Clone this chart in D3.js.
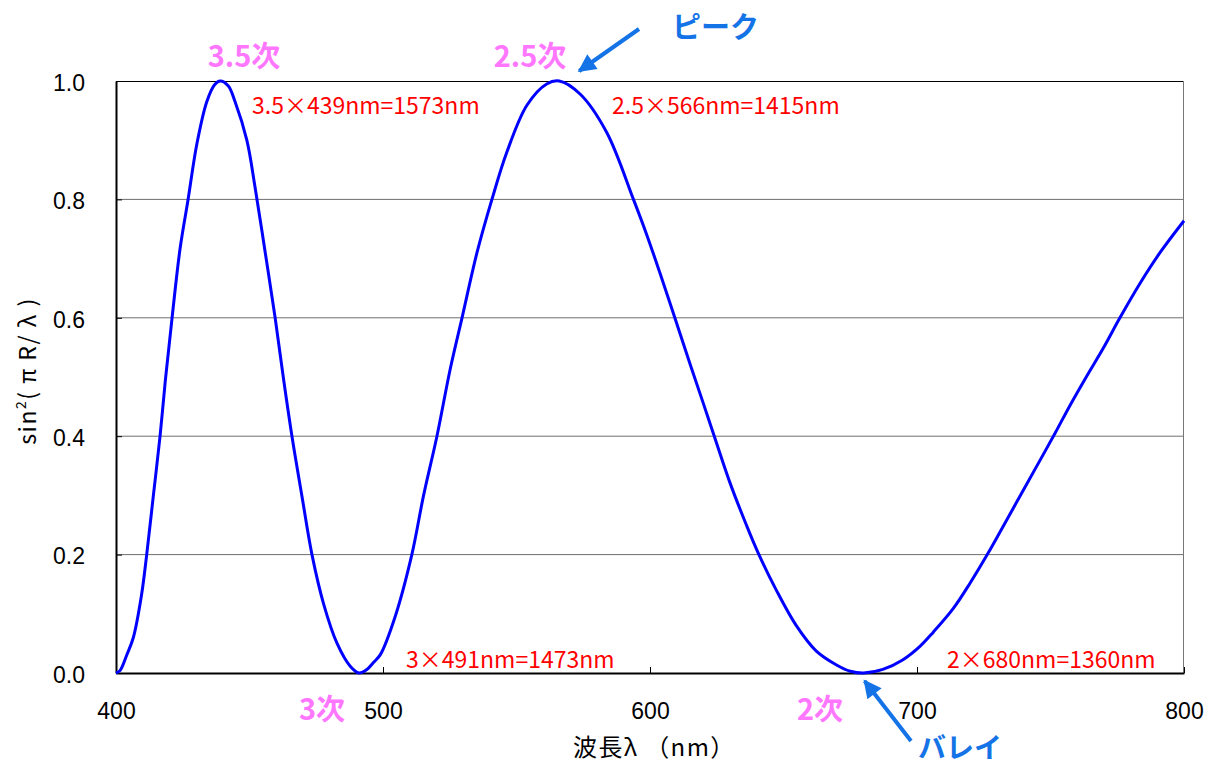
<!DOCTYPE html>
<html>
<head>
<meta charset="utf-8">
<script src="https://cdn.jsdelivr.net/npm/d3@7"></script>
<style>
  body { margin: 0; background: #ffffff; }
  svg { display: block; }
</style>
</head>
<body>
<svg id="chart" width="1210" height="766"></svg>
<script>
// Measured transmission term sin^2(πR/λ) against wavelength (nm)
const wavelength = [
  400, 401.5, 404, 406.5, 409.5, 411.5, 414, 416.5, 418.5, 421, 424, 427, 430.3, 434, 437, 439,
  442, 444.6, 449, 452.1, 455.9, 459.6, 462.8, 465.9, 469.6, 473.4, 477.8, 482.8, 487.8, 491,
  494, 496.5, 499, 504.6, 510.8, 515.2, 520.2, 525.2, 529.6, 535.2, 540.8, 546.4, 553.9, 561.3, 566,
  573.8, 583.8, 593.8, 598.8, 603.7, 609.3, 615, 620, 623.7, 629.9, 636.1, 640.5, 647.3, 654.8,
  662.3, 669.7, 675, 680, 687.2, 694.6, 701.1, 706.1, 713.6, 719.9, 726.7, 732.3, 738.6, 744.8,
  751.7, 757.3, 763.5, 769.8, 776, 783.5, 791, 800
];
const intensity = [
  0, 0.004, 0.03, 0.06, 0.13, 0.2, 0.3, 0.4, 0.495, 0.6, 0.717, 0.8, 0.894, 0.965, 0.994, 1.0,
  0.992, 0.965, 0.9, 0.82, 0.71, 0.6, 0.495, 0.4, 0.3, 0.2, 0.116, 0.05, 0.011, 0,
  0.006, 0.018, 0.031, 0.096, 0.2, 0.3, 0.4, 0.514, 0.6, 0.71, 0.8, 0.88, 0.959, 0.995, 1.0,
  0.978, 0.913, 0.8, 0.74, 0.676, 0.6, 0.522, 0.455, 0.405, 0.322, 0.25, 0.203, 0.14, 0.08,
  0.037, 0.014, 0.003, 0, 0.006, 0.022, 0.045, 0.069, 0.109, 0.152, 0.203, 0.248, 0.299, 0.349,
  0.405, 0.452, 0.501, 0.549, 0.6, 0.658, 0.71, 0.764
];
const xTicks = [400, 500, 600, 700, 800];
const yTicks = [0, 0.2, 0.4, 0.6, 0.8, 1.0];
const gridTicks = [0.2, 0.4, 0.6, 0.8];

// Order annotations (peaks and valleys) with the wavelengths they refer to
const orderLabels = ["3.5次", "2.5次", "3次", "2次"];
const orderWavelengths = [439, 566, 491, 680];
const formulaTexts = ["3.5×439nm=1573nm", "2.5×566nm=1415nm", "3×491nm=1473nm", "2×680nm=1360nm"];

const svg = d3.select("#chart");
const plot = { left: 116, right: 1184, top: 81, bottom: 673 };

const x = d3.scaleLinear().domain([400, 800]).range([plot.left, plot.right]);
const y = d3.scaleLinear().domain([0, 1]).range([plot.bottom, plot.top]);

const numFont = "'Liberation Sans', Arial, sans-serif";
const jpFont = "'Noto Sans CJK JP', 'Noto Sans', sans-serif";

// Horizontal gridlines
svg.append("g")
  .selectAll("line")
  .data(gridTicks)
  .join("line")
  .attr("x1", plot.left).attr("x2", plot.right)
  .attr("y1", d => y(d)).attr("y2", d => y(d))
  .attr("stroke", "#6e6e6e").attr("stroke-width", 1);

// Plot frame
svg.append("line").attr("x1", plot.left).attr("x2", plot.right)
  .attr("y1", plot.top + 0.5).attr("y2", plot.top + 0.5).attr("stroke", "#000").attr("stroke-width", 1);
svg.append("line").attr("x1", plot.right - 0.5).attr("x2", plot.right - 0.5)
  .attr("y1", plot.top).attr("y2", plot.bottom).attr("stroke", "#777").attr("stroke-width", 1);

// Axes
const xAxis = d3.axisBottom(x).tickValues(xTicks).tickFormat(d3.format("d"))
  .tickSizeInner(-6).tickSizeOuter(0).tickPadding(30);
const gx = svg.append("g").attr("transform", `translate(0,${plot.bottom})`).call(xAxis);
gx.select(".domain").attr("stroke", "#000").attr("stroke-width", 2);
gx.selectAll(".tick line").attr("stroke", "#000");
gx.selectAll(".tick text").attr("font-family", numFont).attr("font-size", 23).attr("fill", "#000");

const yAxis = d3.axisLeft(y).tickValues(yTicks).tickFormat(d3.format(".1f"))
  .tickSizeInner(-6).tickSizeOuter(0).tickPadding(31);
const gy = svg.append("g").attr("transform", `translate(${plot.left},0)`).call(yAxis);
gy.select(".domain").attr("stroke", "#000").attr("stroke-width", 2);
gy.selectAll(".tick line").attr("stroke", "#000");
gy.selectAll(".tick text").attr("font-family", numFont).attr("font-size", 23).attr("fill", "#000")
  .attr("dy", "0.4em");

// Axis titles
svg.append("text")
  .attr("x", 573).attr("y", 756)
  .attr("font-family", jpFont).attr("font-size", 24).attr("fill", "#000")
  .attr("letter-spacing", 1.4)
  .text("波長λ （nm）");

const yTitle = svg.append("text")
  .attr("transform", "translate(36,371) rotate(-90)")
  .attr("text-anchor", "middle")
  .attr("font-family", jpFont).attr("font-size", 23).attr("fill", "#000")
  .attr("letter-spacing", 1.5);
yTitle.append("tspan").text("sin");
yTitle.append("tspan").attr("font-size", 14).attr("dy", -10).text("2");
yTitle.append("tspan").attr("dy", 10).text("( π R/ λ )");

// Curve
const points = wavelength.map((w, i) => [w, intensity[i]]);
svg.append("path")
  .datum(points)
  .attr("fill", "none")
  .attr("stroke", "#0000ff")
  .attr("stroke-width", 3)
  .attr("stroke-linejoin", "round")
  .attr("d", d3.line().x(d => x(d[0])).y(d => y(d[1])).curve(d3.curveCatmullRom.alpha(0.5)));

// Order labels (pink) and formula texts (red)
const orderPos = [[244, 67], [530, 67], [322, 720], [820, 720]];
svg.append("g").selectAll("text")
  .data(orderLabels)
  .join("text")
  .attr("x", (d, i) => orderPos[i][0]).attr("y", (d, i) => orderPos[i][1])
  .attr("text-anchor", "middle")
  .attr("font-family", jpFont).attr("font-weight", 700).attr("font-size", 29)
  .attr("fill", "#ff77ff")
  .text(d => d);

const formulaPos = [[252, 114], [612, 114], [406, 668], [947, 668]];
svg.append("g").selectAll("text")
  .data(formulaTexts)
  .join("text")
  .attr("x", (d, i) => formulaPos[i][0]).attr("y", (d, i) => formulaPos[i][1])
  .attr("font-family", jpFont).attr("font-size", 23)
  .attr("fill", "#ff0000")
  .text(d => d);

// Peak / valley callouts with arrows
const calloutBlue = "#1473e6";
svg.append("defs").append("marker")
  .attr("id", "arrowhead")
  .attr("viewBox", "0 0 10 10")
  .attr("refX", 9).attr("refY", 5)
  .attr("markerUnits", "userSpaceOnUse")
  .attr("markerWidth", 20).attr("markerHeight", 18)
  .attr("orient", "auto")
  .append("path").attr("d", "M0,0 L10,5 L0,10 Z").attr("fill", calloutBlue);

svg.append("line")
  .attr("x1", 639).attr("y1", 29)
  .attr("x2", x(orderWavelengths[1]) + 20).attr("y2", y(1) - 10)
  .attr("stroke", calloutBlue).attr("stroke-width", 4)
  .attr("marker-end", "url(#arrowhead)");
svg.append("text")
  .attr("x", 672).attr("y", 38)
  .attr("font-family", jpFont).attr("font-weight", 700).attr("font-size", 29)
  .attr("fill", calloutBlue)
  .text("ピーク");

svg.append("line")
  .attr("x1", 911).attr("y1", 741)
  .attr("x2", x(orderWavelengths[3]) + 1).attr("y2", y(0) + 8)
  .attr("stroke", calloutBlue).attr("stroke-width", 4)
  .attr("marker-end", "url(#arrowhead)");
svg.append("text")
  .attr("x", 918).attr("y", 758)
  .attr("font-family", jpFont).attr("font-weight", 700).attr("font-size", 28)
  .attr("fill", calloutBlue)
  .text("バレイ");
</script>
</body>
</html>
